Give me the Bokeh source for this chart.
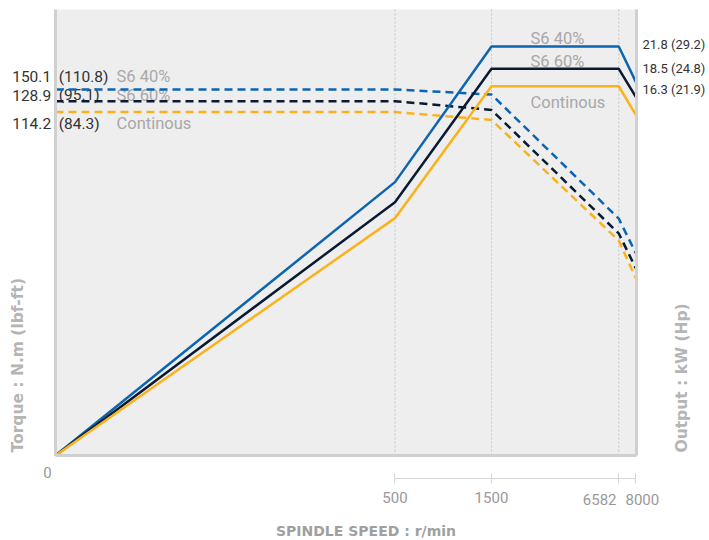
import numpy as np
from bokeh.plotting import figure
from bokeh.models import Range1d, LinearAxis, FixedTicker, Label, BoxAnnotation
from bokeh.embed import file_html
from bokeh.resources import INLINE

# ---------------- data ----------------
speed_rpm = [0, 500, 1500, 6582, 8000]
tick_rpm = [500, 1500, 6582, 8000]
tick_text = ["500", "1500", "6582", "8000"]
grid_rpm = [500, 1500, 6582]
# the chart's own piecewise speed scale (rpm -> fraction of axis length)
scale_rpm = [0, 500, 1500, 6582, 8000]
scale_frac = [0.0, 0.5843, 0.7504, 0.9695, 0.9991]

# torque curves (N.m)
torque_s6_40 = [150.2, 150.2, 148.1, 97.2, 82.9]
torque_s6_60 = [145.4, 145.4, 141.8, 91.1, 76.7]
torque_cont = [140.9, 140.9, 137.7, 88.2, 72.6]

# output curves (kW)
power_s6_40 = [0.0, 14.57, 21.8, 21.8, 19.9]
power_s6_60 = [0.0, 13.50, 20.61, 20.61, 19.10]
power_cont = [0.0, 12.65, 19.68, 19.68, 18.14]

series_names = ["S6 40%", "S6 60%", "Continous"]
torque_nm = ["150.1", "128.9", "114.2"]
torque_lbf = ["(110.8)", "(95.1)", "(84.3)"]
power_text = ["21.8 (29.2)", "18.5 (24.8)", "16.3 (21.9)"]

# ---------------- style / layout ----------------
BLUE, NAVY, ORANGE = "#0d64b0", "#0b1a33", "#fbb21a"
colors = [BLUE, NAVY, ORANGE]
FONT = "Roboto"
TITLE_FONT = "DejaVu Sans"

W, H = 709, 540
GX0, GX1, GY0, GY1 = 55, 636, 9, 455     # grey plotting area on the canvas
GW, GH = GX1 - GX0, GY1 - GY0
T_MAX = 183.0
P_MAX = 23.77

def sx(rpm):
    return [float(v) for v in np.interp(rpm, scale_rpm, scale_frac)]

def dx(px):
    return (px - GX0) / GW

def dy(py):
    return (GY1 - py) / GH * T_MAX

p = figure(width=W, height=H, output_backend="svg", toolbar_location=None,
           x_range=Range1d(dx(0), dx(W)), y_range=Range1d(dy(H), dy(0)),
           x_axis_location=None, y_axis_location=None,
           min_border=0, min_border_left=0, min_border_right=0,
           min_border_top=0, min_border_bottom=0)
p.extra_y_ranges = {"power": Range1d((GY1 - H) / GH * P_MAX, GY1 / GH * P_MAX)}
p.grid.visible = False
p.background_fill_color = "white"
p.border_fill_color = "white"
p.outline_line_color = None

bg = BoxAnnotation(left=0, right=1, bottom=0, top=T_MAX, fill_color="#eeeeee",
                   fill_alpha=1.0, line_color=None)
bg.level = "image"
p.add_layout(bg)

BORDER = "#d0d0d0"

def border_axis(loc, bounds, **kw):
    return LinearAxis(ticker=FixedTicker(ticks=[]), fixed_location=loc, bounds=bounds,
                      axis_line_color=BORDER, axis_line_width=3,
                      major_tick_in=0, major_tick_out=0, minor_tick_in=0, minor_tick_out=0,
                      major_label_standoff=0, **kw)

p.add_layout(border_axis(0.0, (0.0, T_MAX)), "left")
p.add_layout(border_axis(1.0, (0.0, P_MAX), y_range_name="power"), "right")
p.add_layout(border_axis(0.0, (0.0, 1.0)), "below")

xt = sx(tick_rpm)
overrides = {xt[0]: tick_text[0], xt[1]: tick_text[1], xt[2]: "", xt[3]: ""}
speed_axis = LinearAxis(ticker=FixedTicker(ticks=xt), bounds=(xt[0], xt[-1]),
                        fixed_location=dy(478),
                        axis_line_color="#d6d6d6", axis_line_width=1,
                        major_tick_line_color="#d6d6d6", major_tick_in=5, major_tick_out=5,
                        minor_tick_in=0, minor_tick_out=0,
                        major_label_overrides=overrides,
                        major_label_standoff=8,
                        major_label_text_font=FONT, major_label_text_font_size="15px",
                        major_label_text_color="#999999")
p.add_layout(speed_axis, "below")

xg = sx(grid_rpm)
p.segment(x0=xg, x1=xg, y0=[0.0] * len(xg), y1=[T_MAX] * len(xg),
          line_color="#c4c4c4", line_dash="2 2", line_width=1)

xs = sx(speed_rpm)
for tq, c in zip([torque_s6_40, torque_s6_60, torque_cont], colors):
    p.line(xs, tq, line_color=c, line_width=2.5, line_dash="8 5")
for pw, c in zip([power_s6_40, power_s6_60, power_cont], colors):
    p.line(xs, pw, line_color=c, line_width=2.5, y_range_name="power")

def lab(text, px, py, size="15px", color="#333333", align="left", style="normal",
        angle=0.0, level="annotation", font=FONT):
    l = Label(x=dx(px), y=dy(py), text=text, text_font=font, text_font_size=size,
              text_color=color, text_align=align, text_baseline="middle",
              text_font_style=style, angle=angle)
    l.level = level
    p.add_layout(l)

# left block
left_rows = [76, 94.5, 123]
for i, py in enumerate(left_rows):
    lab(torque_nm[i], 11.7, py, size="15.5px")
    lab(torque_lbf[i], 58.3, py, size="15.5px", level="underlay")
    lab(series_names[i], 116, py, size="16.5px", color="#a8a8a8", level="underlay")

# right block
right_rows = [44, 68, 89]
for i, py in enumerate(right_rows):
    lab(power_text[i], 642, py, size="13px")
name_rows = [37.5, 60.5, 102]
for i, py in enumerate(name_rows):
    lab(series_names[i], 530, py, size="16.5px", color="#a8a8a8")

# speed tick labels that sit off-centre, and the zero
lab(tick_text[2], 616, 499, color="#999999", align="right")
lab(tick_text[3], 625, 499, color="#999999", align="left")
lab("0", 47, 472, color="#999999", align="center")

# axis titles
lab("Torque : N.m (lbf-ft)", 17.3, 452, size="15.5px", color="#b5b5b5", style="bold",
    angle=np.pi / 2, font=TITLE_FONT)
lab("Output : kW (Hp)", 681.7, 452, size="15.5px", color="#b5b5b5", style="bold",
    angle=np.pi / 2, font=TITLE_FONT)
lab("SPINDLE SPEED : r/min", 365.5, 530, size="14px", color="#a0a0a0", style="bold",
    align="center", font=TITLE_FONT)

open("out.html", "w").write(file_html(p, INLINE))
